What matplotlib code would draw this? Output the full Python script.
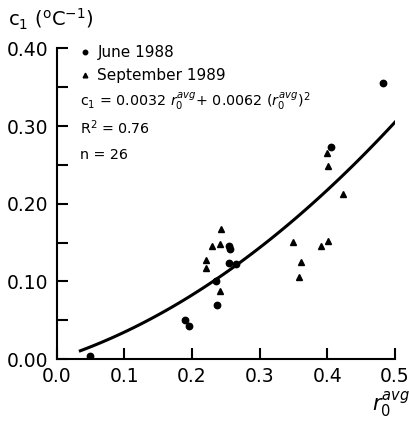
import matplotlib
matplotlib.use("Agg")
import matplotlib.pyplot as plt
import numpy as np
from matplotlib.ticker import MultipleLocator, FormatStrFormatter

# ── data ──────────────────────────────────────────────────────────────
june_x = [0.049, 0.190, 0.196, 0.236, 0.237, 0.254, 0.256, 0.255, 0.265, 0.405, 0.482]
june_y = [0.004, 0.050, 0.042, 0.100, 0.069, 0.145, 0.141, 0.124, 0.122, 0.273, 0.356]

sept_x = [0.243, 0.229, 0.241, 0.221, 0.221, 0.241, 0.400, 0.401, 0.423,
          0.349, 0.401, 0.390, 0.361, 0.358]
sept_y = [0.167, 0.146, 0.148, 0.128, 0.117, 0.087, 0.265, 0.248, 0.213,
          0.151, 0.152, 0.146, 0.125, 0.105]

# fitted curve c1 = a*r + b*r^2 (in plot units)
fit_a, fit_b = 0.28, 0.66
fit_range = (0.035, 0.502)

plt.rcParams["font.family"] = ["DejaVu Sans"]
plt.rcParams["mathtext.fontset"] = "dejavusans"

fig = plt.figure(figsize=(4.09, 4.24), dpi=100)
ax = fig.add_axes([0.1386, 0.1533, 0.8272, 0.7327])

ax.plot(june_x, june_y, "o", color="black", markersize=4.6, label="June 1988")
ax.plot(sept_x, sept_y, "^", color="black", markersize=4.8, label="September 1989")

r = np.linspace(*fit_range, 100)
ax.plot(r, fit_a * r + fit_b * r ** 2, color="black", lw=2.2)

ax.set_xlim(0, 0.5)
ax.set_ylim(0, 0.40)
ax.xaxis.set_major_locator(MultipleLocator(0.1))
ax.yaxis.set_major_locator(MultipleLocator(0.1))
ax.yaxis.set_minor_locator(MultipleLocator(0.05))
ax.xaxis.set_major_formatter(FormatStrFormatter("%.1f"))
ax.yaxis.set_major_formatter(FormatStrFormatter("%.2f"))
ax.tick_params(which="both", direction="in", length=8, width=1.5, labelsize=13.5)
ax.tick_params(axis="x", pad=6)
ax.tick_params(axis="y", pad=6)
ax.spines[["top", "right"]].set_visible(False)
ax.spines[["left", "bottom"]].set_linewidth(1.5)

ax.legend(loc="upper left", bbox_to_anchor=(0.03, 1.055), frameon=False,
          fontsize=11, markerscale=0.7, handlelength=0.6,
          handletextpad=0.5, labelspacing=0.55, numpoints=1)

ax.text(0.069, 0.827,
        r"$\mathrm{c}_1$ = 0.0032 $r_0^{avg}$+ 0.0062 ($r_0^{avg}$)$^2$",
        transform=ax.transAxes, fontsize=10.3, va="center", ha="left")
ax.text(0.069, 0.743, r"R$^2$ = 0.76", transform=ax.transAxes,
        fontsize=10.3, va="center", ha="left")
ax.text(0.069, 0.657, "n = 26", transform=ax.transAxes,
        fontsize=10.3, va="center", ha="left")

fig.text(0.02, 0.955, r"$\mathrm{c}_1$ ($^\mathrm{o}$C$^{-1}$)",
         fontsize=14, va="center", ha="left")
fig.text(0.910, 0.044, r"$r_0^{avg}$", fontsize=15, va="center", ha="left")

fig.savefig("out.png", dpi=100)
